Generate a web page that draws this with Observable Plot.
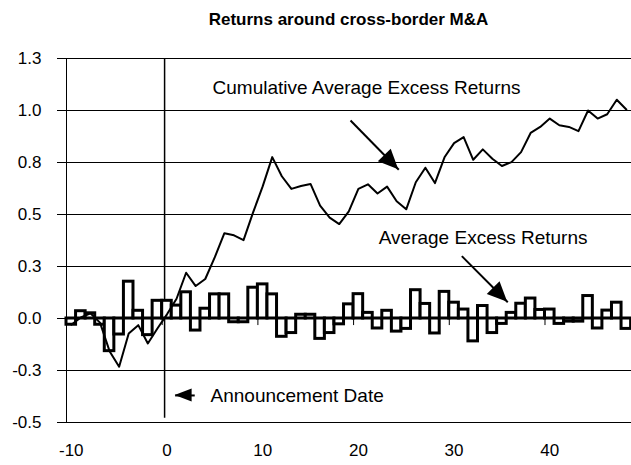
<!DOCTYPE html>
<html><head><meta charset="utf-8">
<script src="https://cdn.jsdelivr.net/npm/d3@7"></script>
<script src="https://cdn.jsdelivr.net/npm/@observablehq/plot@0.6"></script>
<style>
body{margin:0;background:#fff;font-family:"Liberation Sans",Arial,sans-serif;}
#title{height:40px;line-height:40px;padding-left:66px;width:565px;text-align:center;font-weight:bold;font-size:17px;color:#000;}
#chart svg{display:block;}
</style></head><body>
<div id="title">Returns around cross-border M&amp;A</div>
<div id="chart"></div>
<script>
// Event days (category axis)
const days = [-10,-9,-8,-7,-6,-5,-4,-3,-2,-1,
  0,1,2,3,4,5,6,7,8,9,
  10,11,12,13,14,15,16,17,18,19,
  20,21,22,23,24,25,26,27,28,29,
  30,31,32,33,34,35,36,37,38,39,
  40,41,42,43,44,45,46,47,48];

// Average Excess Returns (bars)
const averageExcessReturns = [
  -0.03, 0.035, 0.025, -0.03, -0.157, -0.077, 0.177, 0.037, -0.08, 0.085,
  0.085, 0.062, 0.126, -0.058, 0.047, 0.116, 0.116, -0.018, -0.018, 0.148,
  0.164, 0.116, -0.088, -0.07, 0.018, 0.018, -0.098, -0.07, -0.028, 0.068,
  0.117, 0.027, -0.048, 0.037, -0.063, -0.05, 0.136, 0.07, -0.072, 0.128,
  0.076, 0.043, -0.11, 0.06, -0.07, -0.026, 0.027, 0.071, 0.096, 0.041,
  0.043, -0.026, -0.015, -0.015, 0.108, -0.048, 0.038, 0.076, -0.05];

// Cumulative Average Excess Returns (line)
const cumulativeReturns = [
  -0.03, 0.005, 0.025, -0.02, -0.157, -0.232, -0.072, -0.032, -0.12, -0.048,
  0.02, 0.095, 0.22, 0.156, 0.19, 0.295, 0.41, 0.40, 0.377, 0.51,
  0.635, 0.776, 0.684, 0.623, 0.637, 0.647, 0.543, 0.485, 0.454, 0.515,
  0.623, 0.645, 0.601, 0.634, 0.564, 0.525, 0.655, 0.725, 0.651, 0.775,
  0.843, 0.872, 0.763, 0.813, 0.768, 0.733, 0.752, 0.80, 0.892, 0.921,
  0.961, 0.929, 0.921, 0.901, 1.0, 0.961, 0.982, 1.052, 1.005];

const xTicks = [-10, 0, 10, 20, 30, 40];
const yTicks = [-0.5, -0.25, 0, 0.25, 0.5, 0.75, 1, 1.25];

const annotationLabels = ["Cumulative Average Excess Returns", "Average Excess Returns", "Announcement Date"];
const annotationX = [4.76, 22.13, 4.55];
const annotationY = [1.11, 0.389, -0.37];

// arrows: tail (x1,y1) -> tip (x2,y2)
const arrowX1 = [19.18, 30.81, 2.9];
const arrowY1 = [0.952, 0.30, -0.37];
const arrowX2 = [24.22, 35.61, 0.85];
const arrowY2 = [0.715, 0.078, -0.37];

const announcementDay = -0.25;

const returns = days.map((d, i) => ({day: d, ar: averageExcessReturns[i], car: cumulativeReturns[i]}));
const annotations = annotationLabels.map((l, i) => ({label: l, x: annotationX[i], y: annotationY[i]}));
const arrows = arrowX1.map((x, i) => ({x1: x, y1: arrowY1[i], x2: arrowX2[i], y2: arrowY2[i], big: i < 2}));

const font = "Liberation Sans, Arial, sans-serif";

const plot = Plot.plot({
  width: 631, height: 425,
  marginTop: 18, marginBottom: 43, marginLeft: 66, marginRight: 0,
  style: {fontFamily: font, fontSize: "17px", background: "white", color: "black"},
  x: {domain: [-10.5, 48.54], ticks: xTicks, tickFormat: d => String(d), tickSize: 0, tickPadding: 21, label: null},
  y: {domain: [-0.5, 1.25], ticks: yTicks, tickFormat: d => d.toFixed(1), tickSize: 9, tickPadding: 16, label: null},
  marks: [
    Plot.ruleY(yTicks, {stroke: "black", strokeWidth: 1}),
    Plot.ruleX([announcementDay], {y1: 1.25, y2: -0.48, stroke: "black", strokeWidth: 1.5}),
    Plot.rect(returns, {x1: d => d.day - 0.5, x2: d => d.day + 0.5, y1: 0, y2: "ar", fill: "white", stroke: "black", strokeWidth: 3}),
    Plot.ruleX(xTicks, {x: d => d - 0.5, y1: 0, y2: -0.034, stroke: "black", strokeWidth: 1}),
    Plot.line(returns, {x: "day", y: "car", stroke: "black", strokeWidth: 2}),
    Plot.ruleX([-10.5], {stroke: "black", strokeWidth: 1}),
    Plot.text(annotations, {x: "x", y: "y", text: "label", textAnchor: "start", fontSize: 19, fill: "black"}),
    Plot.link(arrows, {x1: "x1", y1: "y1", x2: "x2", y2: "y2", stroke: "black", strokeWidth: 2})
  ]
});

// filled arrow heads, positioned through the plot's own scales
function fn(s) {
  if (s && typeof s.apply === "function") return v => s.apply(v);
  const [d0, d1] = s.domain, [r0, r1] = s.range;
  return v => r0 + (v - d0) / (d1 - d0) * (r1 - r0);
}
const sx = fn(plot.scale("x")), sy = fn(plot.scale("y"));
const g = d3.select(plot).append("g");
for (const a of arrows) {
  const X1 = sx(a.x1), Y1 = sy(a.y1), X2 = sx(a.x2), Y2 = sy(a.y2);
  const len = Math.hypot(X2 - X1, Y2 - Y1);
  const ux = (X2 - X1) / len, uy = (Y2 - Y1) / len;
  const L = a.big ? 20 : 17, W = a.big ? 9 : 6.5;
  const bx = X2 - ux * L, by = Y2 - uy * L;
  const pts = [[X2, Y2], [bx - uy * W, by + ux * W], [bx + uy * W, by - ux * W]];
  g.append("polygon").attr("points", pts.map(p => p.join(",")).join(" ")).attr("fill", "black");
}

document.getElementById("chart").appendChild(plot);
</script>
</body></html>
